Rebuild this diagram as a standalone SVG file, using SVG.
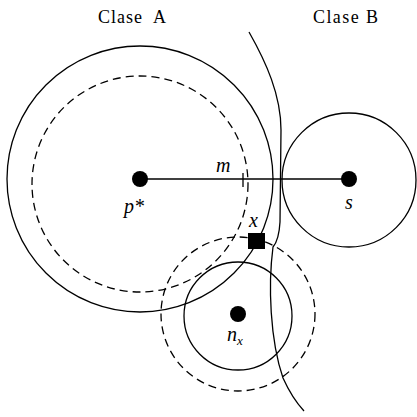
<svg xmlns="http://www.w3.org/2000/svg" width="417" height="417" viewBox="0 0 417 417">
<style>
.s{fill:none;stroke:#000;stroke-width:1.3}
.d{fill:none;stroke:#000;stroke-width:1.3;stroke-dasharray:8 5}
.dot{fill:#000}
.lbl{font-family:"Liberation Serif",serif;font-style:italic;font-size:20px;fill:#000}
.ttl{font-family:"Liberation Serif",serif;font-size:18px;fill:#000}
</style>
<rect width="417" height="417" fill="#fff"/>
<g id="regions">
<circle class="s" cx="140" cy="179" r="133"/>
<circle class="d" cx="140" cy="184" r="108"/>
<circle class="s" cx="349" cy="180" r="67"/>
<circle class="s" cx="238" cy="316" r="54"/>
<circle class="d" cx="238" cy="314" r="77"/>
<path class="s" d="M249,32 C266,62 281,95 281,130 L280,222 Q279,240 273,247 C268,285 270,340 283,378 Q292,398 304,411"/>
</g>
<g id="connectors">
<line class="s" x1="140" y1="179" x2="349" y2="179"/>
<line class="s" x1="243" y1="173" x2="243" y2="187"/>
</g>
<g id="p">
<circle class="dot" cx="140" cy="179" r="8"/>
<text class="lbl" x="134" y="213" text-anchor="middle">p*</text>
</g>
<g id="s">
<circle class="dot" cx="349" cy="179" r="8"/>
<text class="lbl" x="349" y="209" text-anchor="middle">s</text>
</g>
<g id="nx">
<circle class="dot" cx="238" cy="314" r="8"/>
<text class="lbl" x="227" y="341">n<tspan font-size="13" dy="4">x</tspan></text>
</g>
<g id="x">
<rect class="dot" x="248" y="233" width="17" height="16"/>
<text class="lbl" x="249" y="227">x</text>
</g>
<text class="lbl" x="216" y="172">m</text>
<text class="ttl" x="98" y="23" textLength="68" lengthAdjust="spacing" xml:space="preserve">Clase  A</text>
<text class="ttl" x="313" y="23" textLength="65" lengthAdjust="spacing">Clase B</text>
</svg>
